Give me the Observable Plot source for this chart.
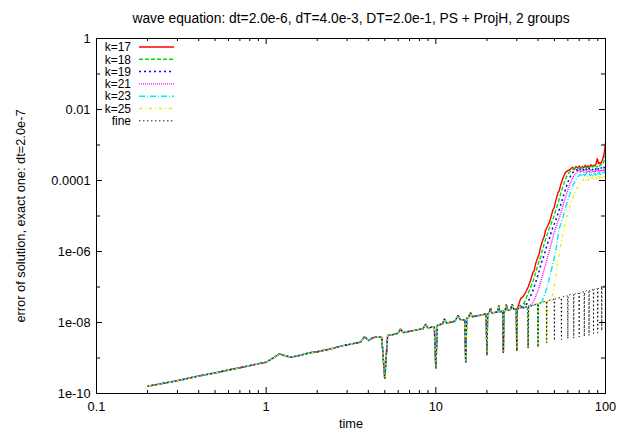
<!DOCTYPE html>
<html><head><meta charset="utf-8">
<script src="https://cdn.jsdelivr.net/npm/d3@7"></script>
<script src="https://cdn.jsdelivr.net/npm/@observablehq/plot@0.6"></script>
<style>
body{margin:0;background:#fff;}
svg{font-family:"Liberation Sans",Arial,sans-serif;}
</style>
</head><body><div id="chart"></div>
<script>
// ---------- text ----------
const titleText = "wave equation: dt=2.0e-6, dT=4.0e-3, DT=2.0e-1, PS + ProjH, 2 groups";
const xLabelText = "time";
const yLabelText = "error of solution, exact one: dt=2.0e-7";

// ---------- ticks ----------
const xTicks = [0.1, 1, 10, 100];
const xTickLabels = ["0.1", "1", "10", "100"];
const xMinorTicks = [0.2,0.3,0.4,0.5,0.6,0.7,0.8,0.9,2,3,4,5,6,7,8,9,20,30,40,50,60,70,80,90];
const yTicks = [1, 0.01, 1e-4, 1e-6, 1e-8, 1e-10];
const yTickLabels = ["1", "0.01", "0.0001", "1e-06", "1e-08", "1e-10"];
const yMinorTicks = [0.1, 1e-3, 1e-5, 1e-7, 1e-9];

// ---------- series ----------
const seriesNames = ["k=17", "k=18", "k=19", "k=21", "k=23", "k=25", "fine"];

// shared early part of every curve: [time, error]
const common = [[0.2,1.6e-10],[0.3,2.3e-10],[0.4,3.1e-10],[0.5,3.8e-10],[0.6,4.6e-10],[0.7,5.3e-10],[0.8,6.1e-10],[0.9,6.9e-10],[1.0,7.6e-10],[1.1,1.0e-9],[1.2,1.3e-9],[1.3,1.15e-9],[1.4,1.05e-9],[1.6,1.2e-9],[1.8,1.4e-9],[2.0,1.5e-9],[2.2,1.65e-9],[2.4,1.8e-9],[2.6,2.0e-9],[2.8,2.2e-9],[3.0,2.35e-9],[3.2,2.5e-9],[3.4,2.65e-9],[3.6,2.8e-9],[3.8,4.0e-9],[4.0,3.1e-9],[4.2,3.6e-9],[4.4,3.9e-9],[4.6,3.9e-9],[4.8,3.8e-9],[5.0,2.6e-10],[5.2,4.3e-9],[5.4,4.5e-9],[5.6,4.6e-9],[5.8,4.8e-9],[6.0,5.0e-9],[6.2,6.6e-9],[6.4,5.2e-9],[6.8,5.5e-9],[7.2,5.8e-9],[7.6,6.1e-9],[8.0,6.4e-9],[8.4,6.6e-9],[8.7,9.0e-9],[9.0,7.0e-9],[9.4,7.3e-9],[9.8,7.5e-9],[10.0,5.0e-10],[10.2,8.3e-9],[10.6,8.8e-9],[11.0,9.2e-9],[11.2,1.26e-8],[11.6,9.5e-9],[12.0,1.0e-8],[12.6,1.05e-8],[13.0,1.1e-8],[13.5,1.6e-8],[14.0,1.15e-8],[14.8,1.2e-8],[15.0,7.6e-10],[15.2,1.3e-8],[15.6,1.4e-8],[16.0,1.9e-8],[16.4,1.45e-8],[17.0,1.5e-8],[17.6,1.55e-8],[18.2,1.6e-8],[18.8,1.65e-8],[19.4,1.7e-8],[19.8,1.72e-8],[20.0,1.2e-9],[20.2,1.75e-8],[20.6,1.8e-8],[21.0,2.5e-8],[21.4,1.85e-8],[22.0,1.9e-8],[22.6,1.95e-8],[23.2,2.0e-8],[23.5,3.0e-8],[23.8,2.0e-8],[24.4,2.05e-8],[24.8,2.1e-8],[25.0,1.4e-9],[25.2,2.1e-8],[25.6,2.15e-8],[26.0,3.2e-8],[26.4,2.2e-8],[27.0,2.25e-8],[27.6,2.3e-8],[28.2,3.3e-8],[28.8,2.35e-8],[29.4,2.4e-8],[29.8,2.4e-8],[30.0,1.6e-9]];

const tail17 = [[30.2,2.4e-8],[31.6,4.7e-8],[32.8,5.5e-8],[33.8,7e-8],[35,1.0e-7],[36.1,1.5e-7],[37.4,2.6e-7],[38.0,2.9e-7],[38.7,4.5e-7],[40,7.0e-7],[40.6,8.5e-7],[41.4,1.3e-6],[42.8,2.2e-6],[43.5,2.6e-6],[44.3,3.9e-6],[45.8,5.5e-6],[46.6,6.5e-6],[47.4,8.3e-6],[49,1.5e-5],[49.8,1.7e-5],[50.7,2.5e-5],[52.5,4.5e-5],[53.4,5.2e-5],[54.3,7.2e-5],[56.2,1.2e-4],[58.1,1.7e-4],[60,1.9e-4],[62.2,2.1e-4],[64,2.4e-4],[65.5,2.0e-4],[67,2.5e-4],[68.5,2.2e-4],[70,2.6e-4],[71.5,2.2e-4],[73,2.5e-4],[74.5,2.3e-4],[76,2.7e-4],[77.5,2.3e-4],[79,2.6e-4],[80.5,2.4e-4],[82,2.8e-4],[83.5,2.5e-4],[85,2.7e-4],[86.5,2.6e-4],[88,3.0e-4],[89.5,4.2e-4],[91,2.9e-4],[92.5,3.2e-4],[94,3.0e-4],[95.5,3.6e-4],[97,4.5e-4],[98.5,6.5e-4],[100,1.15e-3]];

const tail18 = [[30.2,2.4e-8],[31,2.5e-8],[32,2.7e-8],[33.5,4e-8],[35,6.5e-8],[36.5,1.1e-7],[37.6,1.6e-7],[39,2.8e-7],[40.3,4.8e-7],[41.6,7.5e-7],[43.1,1.4e-6],[44.5,2.3e-6],[46.1,3.9e-6],[47.6,5.8e-6],[49.3,8.8e-6],[51,1.5e-5],[52.8,2.5e-5],[54.6,4.5e-5],[56.5,7.5e-5],[58.5,1.2e-4],[60.5,1.6e-4],[62.5,1.9e-4],[64.7,2.1e-4],[66.5,2.3e-4],[68,2.0e-4],[69.5,2.3e-4],[71,2.1e-4],[72.5,2.4e-4],[74,2.1e-4],[75.5,2.4e-4],[77,2.2e-4],[78.5,2.5e-4],[80,2.2e-4],[81.5,2.5e-4],[83,2.3e-4],[84.5,2.6e-4],[86,2.3e-4],[87.5,2.6e-4],[89,2.4e-4],[90.5,2.7e-4],[92,2.5e-4],[93.5,2.8e-4],[95,2.7e-4],[96.5,3.0e-4],[98,3.6e-4],[99,4.5e-4],[100,6.0e-4]];

const tail19 = [[30.2,2.4e-8],[31,2.5e-8],[32,2.6e-8],[33,2.7e-8],[34,3e-8],[35.5,4.5e-8],[37,7e-8],[38.2,1.1e-7],[39.5,1.8e-7],[40.8,3e-7],[42,5e-7],[43.5,8e-7],[45,1.4e-6],[46.6,2.3e-6],[48.2,3.9e-6],[49.8,5.8e-6],[51.5,8.8e-6],[53.3,1.5e-5],[55.2,2.5e-5],[57,4.3e-5],[59,7e-5],[61,1.1e-4],[63,1.5e-4],[65,1.8e-4],[67.5,2.0e-4],[69,1.8e-4],[70.5,2.1e-4],[72,1.9e-4],[73.5,2.1e-4],[75,1.9e-4],[76.5,2.2e-4],[78,1.9e-4],[79.5,2.2e-4],[81,2.0e-4],[82.5,2.2e-4],[84,2.0e-4],[85.5,2.2e-4],[87,2.0e-4],[88.5,2.3e-4],[90,2.0e-4],[91.5,2.3e-4],[93,2.1e-4],[94.5,2.3e-4],[96,2.1e-4],[97.5,2.4e-4],[99,2.2e-4],[100,2.5e-4]];

const tail21 = [[30.2,2.4e-8],[31,2.5e-8],[32,2.55e-8],[33,2.6e-8],[34,2.7e-8],[34.8,2.8e-8],[35,1.9e-9],[35.2,2.9e-8],[37,3.3e-8],[38.5,5e-8],[40,8e-8],[41.3,1.3e-7],[42.5,2.1e-7],[43.8,3.5e-7],[45,5.5e-7],[46.3,9e-7],[47.6,1.5e-6],[49,2.5e-6],[50.2,3.9e-6],[51.8,6e-6],[53.5,9e-6],[55.2,1.5e-5],[57,2.5e-5],[59,4.2e-5],[61,6.8e-5],[63,1e-4],[65.5,1.4e-4],[68,1.7e-4],[70,1.9e-4],[71.5,1.7e-4],[73,1.95e-4],[74.5,1.7e-4],[76,1.9e-4],[77.5,1.65e-4],[79,1.9e-4],[80.5,1.7e-4],[82,1.95e-4],[83.5,1.7e-4],[85,1.9e-4],[86.5,1.7e-4],[88,2.0e-4],[89.5,1.75e-4],[91,2.0e-4],[92.5,1.75e-4],[94,2.0e-4],[95.5,1.8e-4],[97,2.05e-4],[98.5,1.8e-4],[100,2.1e-4]];

const tail23 = [[30.2,2.4e-8],[31,2.5e-8],[32,2.55e-8],[33,2.6e-8],[34,2.7e-8],[34.8,2.8e-8],[35,1.9e-9],[35.2,2.85e-8],[36,2.9e-8],[37,3.0e-8],[38,3.1e-8],[39,3.3e-8],[39.8,3.4e-8],[40,2.0e-9],[40.2,3.4e-8],[42,3.7e-8],[43.5,5.5e-8],[45,9e-8],[46.3,1.5e-7],[47.5,2.5e-7],[48.7,4e-7],[49.8,6.5e-7],[51,1.1e-6],[52,2e-6],[53,3.9e-6],[54.5,6e-6],[56,9e-6],[57.7,1.5e-5],[59.5,2.5e-5],[61.5,4e-5],[63.5,6.5e-5],[66,9.5e-5],[68.5,1.25e-4],[71,1.5e-4],[72.5,1.3e-4],[74,1.6e-4],[75.5,1.35e-4],[77,1.6e-4],[78.5,1.3e-4],[80,1.55e-4],[81.5,1.35e-4],[83,1.6e-4],[84.5,1.35e-4],[86,1.65e-4],[87.5,1.4e-4],[89,1.65e-4],[90.5,1.4e-4],[92,1.7e-4],[93.5,1.45e-4],[95,1.7e-4],[96.5,1.5e-4],[98,1.75e-4],[100,1.6e-4]];

const tail25 = [[30.2,2.4e-8],[31,2.5e-8],[32,2.55e-8],[33,2.6e-8],[34,2.7e-8],[34.8,2.8e-8],[35,1.9e-9],[35.2,2.85e-8],[36,2.9e-8],[37,3.0e-8],[38,3.1e-8],[39,3.3e-8],[39.8,3.4e-8],[40,2.0e-9],[40.2,3.4e-8],[41.5,3.6e-8],[43,3.8e-8],[44.8,4.0e-8],[45,2.7e-9],[45.2,4.0e-8],[47,4.2e-8],[48.7,5.8e-8],[50,1.2e-7],[51.5,2.9e-7],[52.5,5.5e-7],[53.7,1.07e-6],[55,2e-6],[56.5,3.9e-6],[58.5,7e-6],[60.5,1.4e-5],[62.5,2.3e-5],[64.7,3.8e-5],[67,5.5e-5],[69.3,7.2e-5],[72,9e-5],[75,1.15e-4],[76.5,1.0e-4],[78,1.2e-4],[79.5,1.0e-4],[81,1.25e-4],[82.5,1.05e-4],[84,1.3e-4],[85.5,1.05e-4],[87,1.3e-4],[88.5,1.1e-4],[90,1.35e-4],[91.5,1.1e-4],[93,1.35e-4],[94.5,1.15e-4],[96,1.4e-4],[97.5,1.2e-4],[99,1.45e-4],[100,1.3e-4]];

const tailFine = [[30.2,2.4e-8],[31,2.5e-8],[31.5,3.3e-8],[32,2.55e-8],[33,2.6e-8],[33.5,3.4e-8],[34,2.7e-8],[34.8,2.8e-8],[35,1.9e-9],[35.2,2.85e-8],[36,2.9e-8],[37,3.0e-8],[38,3.1e-8],[39,3.3e-8],[39.8,3.4e-8],[40,2.0e-9],[40.2,3.4e-8],[41.5,3.6e-8],[43,3.8e-8],[44.8,4.0e-8],[45,2.7e-9],[45.2,4.0e-8],[47,4.2e-8],[49.8,4.5e-8],[50,3.1e-9],[50.2,4.5e-8],[52,4.9e-8],[54.8,5.0e-8],[55,3.3e-9],[55.2,5.0e-8],[57.5,5.6e-8],[59.8,5.6e-8],[60,3.5e-9],[60.2,5.7e-8],[62.5,6.3e-8],[64.8,6.0e-8],[65,3.6e-9],[65.2,6.1e-8],[67.5,6.8e-8],[69.8,6.5e-8],[70,3.9e-9],[70.2,6.6e-8],[72.5,7.4e-8],[74.8,7.1e-8],[75,4.0e-9],[75.2,7.2e-8],[77.5,8.0e-8],[79.8,7.7e-8],[80,4.3e-9],[80.2,7.8e-8],[82.5,8.6e-8],[84.8,8.2e-8],[85,4.9e-9],[85.2,8.3e-8],[87.5,9.2e-8],[89.8,8.8e-8],[90,5.2e-9],[90.2,8.9e-8],[92.5,9.8e-8],[94.8,9.4e-8],[95,5.9e-9],[95.2,9.5e-8],[97.5,1.05e-7],[100,1.08e-7]];

const tails = [tail17, tail18, tail19, tail21, tail23, tail25, tailFine];

// ---------- styles ----------
const colors = ["#ff0000", "#00dd00", "#0000ff", "#ff00ff", "#00eeee", "#eeee00", "#000000"];
const dashes = [null, "4,2", "2,3", "1,1", "6,2,1,2", "3,3,1,3", "1.5,2.5"];
const widths = [1.4, 1.4, 1.5, 1.4, 1.4, 1.4, 0.9];

// ---------- build rows ----------
const rows = [];
seriesNames.forEach((name, si) => {
  common.concat(tails[si]).forEach(([t, e]) => rows.push({series: name, t, e}));
});

const W = 623, H = 436, mL = 96, mR = 18, mT = 38, mB = 43;
const innerW = W - mL - mR, innerH = H - mT - mB;
const xLab = new Map(xTicks.map((v, i) => [v, xTickLabels[i]]));
const yLab = new Map(yTicks.map((v, i) => [v, yTickLabels[i]]));

const lineMarks = seriesNames.map((name, si) =>
  Plot.line(rows.filter(r => r.series === name), {
    x: "t", y: "e", stroke: colors[si], strokeWidth: widths[si],
    strokeDasharray: dashes[si] || undefined, strokeLinejoin: "miter", strokeLinecap: "butt"
  })
);

const chart = Plot.plot({
  width: W, height: H,
  marginLeft: mL, marginRight: mR, marginTop: mT, marginBottom: mB,
  style: {fontFamily: "Liberation Sans, Arial, sans-serif", fontSize: "12.8px", background: "#fff", color: "#000", overflow: "visible"},
  x: {type: "log", domain: [0.1, 100]},
  y: {type: "log", domain: [1e-10, 1]},
  marks: [
    ...lineMarks,
    Plot.frame({stroke: "#000", strokeWidth: 1}),
    // inward major ticks, all four sides
    Plot.tickX(xTicks, {x: d => d, insetTop: innerH - 6, stroke: "#000"}),
    Plot.tickX(xTicks, {x: d => d, insetBottom: innerH - 6, stroke: "#000"}),
    Plot.tickX(xMinorTicks, {x: d => d, insetTop: innerH - 3, stroke: "#000"}),
    Plot.tickX(xMinorTicks, {x: d => d, insetBottom: innerH - 3, stroke: "#000"}),
    Plot.tickY(yTicks, {y: d => d, insetRight: innerW - 6, stroke: "#000"}),
    Plot.tickY(yTicks, {y: d => d, insetLeft: innerW - 6, stroke: "#000"}),
    Plot.tickY(yMinorTicks, {y: d => d, insetRight: innerW - 4, stroke: "#000"}),
    Plot.tickY(yMinorTicks, {y: d => d, insetLeft: innerW - 4, stroke: "#000"}),
    Plot.axisX({ticks: xTicks, tickFormat: d => xLab.get(d), tickSize: 0, tickPadding: 8, label: null, fontSize: 12.8}),
    Plot.axisY({ticks: yTicks, tickFormat: d => yLab.get(d), tickSize: 0, tickPadding: 6, label: null, fontSize: 12.8}),
    Plot.text([titleText], {frameAnchor: "top", dy: -25, fontSize: 13.8, textAnchor: "middle"}),
    Plot.text([xLabelText], {frameAnchor: "bottom", dy: 34, fontSize: 12.8, textAnchor: "middle"}),
    Plot.text([yLabelText], {frameAnchor: "left", dx: -76, rotate: -90, fontSize: 12.8, textAnchor: "middle"})
  ]
});
document.getElementById("chart").appendChild(chart);

// ---------- legend (top-left, inside the frame) ----------
const svg = d3.select(chart);
const lg = svg.append("g").attr("font-size", 12).attr("font-family", "Liberation Sans, Arial, sans-serif");
seriesNames.forEach((name, i) => {
  const cy = mT + 9 + i * 12.3;
  lg.append("text").attr("x", mL + 35).attr("y", cy).attr("dy", "0.35em")
    .attr("text-anchor", "end").attr("fill", "#000").text(name);
  lg.append("line").attr("x1", mL + 43).attr("x2", mL + 78).attr("y1", cy).attr("y2", cy)
    .attr("stroke", colors[i]).attr("stroke-width", widths[i])
    .attr("stroke-dasharray", dashes[i]);
});
</script></body></html>
